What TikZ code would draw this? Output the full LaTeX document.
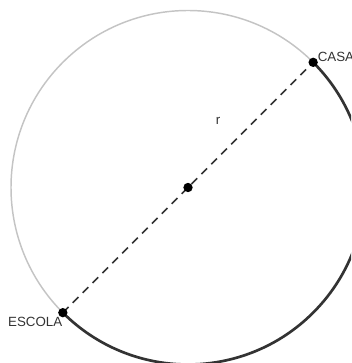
\documentclass[tikz,border=0pt]{standalone}
\usepackage{fontspec}
\setmainfont{Liberation Sans}
\usetikzlibrary{calc}
\definecolor{arcgray}{HTML}{C4C4C4}
\definecolor{arcdark}{HTML}{333333}
\definecolor{txtgray}{HTML}{333333}
\tikzset{
  ponto/.style={circle, fill=black, inner sep=0pt, minimum size=7pt},
  rotulo/.style={text=txtgray, font=\fontsize{10}{11}\selectfont, inner sep=1pt},
}
\begin{document}
\begin{tikzpicture}[x=0.75pt,y=0.75pt]
        \useasboundingbox (0,0) rectangle (351,363);
        \clip (0,0) rectangle (351,363);
        %centro e pontos
        \coordinate (O) at (188,175.5);
        \coordinate (casa) at ($(O)+(45:132.75pt)$);
        \coordinate (escola) at ($(O)+(225:132.75pt)$);

        \draw[arcgray, line width=1.1pt] (casa) arc (45:225:132.75pt);
        \draw[arcdark, line width=2pt] (casa) arc (45:-135:132.75pt);
        \draw[arcdark, line width=1.3pt, dash pattern=on 6pt off 4.5pt] (escola) -- (casa);

        \node[ponto] (pc) at (O) {};
        \node[ponto] (pcasa) at (casa) {};
        \node[ponto] (pescola) at (escola) {};

        \node[rotulo, anchor=south west] (lcasa) at ($(casa)+(3,-1)$) {CASA};
        \node[rotulo, anchor=north east] (lescola) at ($(escola)+(1,-3)$) {ESCOLA};
        \node[rotulo] (lr) at (218,242) {r};
    \end{tikzpicture}
\end{document}
